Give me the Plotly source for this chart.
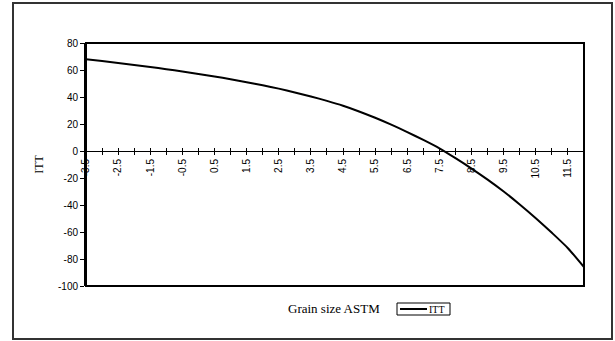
import plotly.graph_objects as go

# ---- data ----
grain_size = [-3.5, -3.0, -2.5, -2.0, -1.5, -1.0, -0.5, 0.0, 0.5, 1.0, 1.5, 2.0,
              2.5, 3.0, 3.5, 4.0, 4.5, 5.0, 5.5, 6.0, 6.5, 7.0, 7.5, 8.0,
              8.5, 9.0, 9.5, 10.0, 10.5, 11.0, 11.5, 12.0]
itt = [68.0, 66.6, 65.2, 63.7, 62.2, 60.6, 58.9, 57.1, 55.2, 53.2, 51.0, 48.7,
       46.2, 43.4, 40.4, 37.1, 33.5, 29.3, 24.6, 19.5, 14.0, 8.2, 2.0, -5.3,
       -13.0, -21.2, -30.0, -39.6, -49.8, -60.6, -72.0, -86.0]
label_vals = [-3.5, -2.5, -1.5, -0.5, 0.5, 1.5, 2.5, 3.5, 4.5, 5.5, 6.5, 7.5, 8.5, 9.5, 10.5, 11.5]
y_ticks = [80, 60, 40, 20, 0, -20, -40, -60, -80, -100]

# ---- layout geometry (pixels) ----
W, H = 615, 341
L, R, T, B = 86, 584, 43, 286
pw, ph = R - L, B - T
def px(x):
    return (x - L) / pw
def py(y):
    return (B - y) / ph

YMIN, YMAX = -100, 80
zero_pos = (0 - YMIN) / (YMAX - YMIN)

all_ticks = grain_size
tick_text = [(f"{v:g}" if v in label_vals else "") for v in all_ticks]
y_text = [f"{v:g}" for v in y_ticks]

serif = "Liberation Serif, Times New Roman, serif"
tickfont = dict(family="Liberation Sans, Arial", size=10, color="black")

fig = go.Figure()
fig.add_trace(go.Scatter(x=grain_size, y=itt, mode="lines", name="ITT",
                         line=dict(color="black", width=2, shape="spline", smoothing=0.6),
                         hoverinfo="skip", showlegend=False))
fig.add_trace(go.Scatter(x=[], y=[], xaxis="x2", showlegend=False))

fig.update_layout(
    width=W, height=H,
    margin=dict(l=L, r=W - R, t=T, b=H - B, autoexpand=False),
    paper_bgcolor="white", plot_bgcolor="white",
    hovermode=False,
    xaxis=dict(range=[-3.5, 12], anchor="free", position=zero_pos,
               tickmode="array", tickvals=all_ticks, ticktext=tick_text,
               tickangle=-90, tickfont=tickfont,
               ticks="outside", ticklen=3, tickcolor="black", tickwidth=1,
               showline=True, linecolor="black", linewidth=1,
               showgrid=False, zeroline=False),
    xaxis2=dict(range=[-3.5, 12], anchor="free", position=zero_pos, overlaying="x",
                tickmode="array", tickvals=all_ticks, showticklabels=False,
                ticks="inside", ticklen=3, tickcolor="black", tickwidth=1,
                showline=False, showgrid=False, zeroline=False),
    yaxis=dict(range=[YMIN, YMAX], tickmode="array", tickvals=y_ticks, ticktext=y_text,
               tickfont=tickfont, ticks="outside", ticklen=4, tickcolor="black",
               showline=True, linecolor="black", linewidth=2,
               showgrid=False, zeroline=False,
               title=dict(text="ITT", font=dict(family=serif, size=12, color="black"),
                          standoff=12)),
    annotations=[
        dict(text="Grain size ASTM", x=px(334), y=py(308), xref="paper", yref="paper",
             showarrow=False, xanchor="center", yanchor="middle",
             font=dict(family=serif, size=13, color="black")),
        dict(text="ITT", x=px(429), y=py(309), xref="paper", yref="paper",
             showarrow=False, xanchor="left", yanchor="middle", xshift=-2,
             font=dict(family=serif, size=10, color="black")),
    ],
    shapes=[
        dict(type="rect", xref="paper", yref="paper", x0=0, x1=1, y0=0, y1=1,
             line=dict(color="black", width=2), layer="above"),
        dict(type="rect", xref="paper", yref="paper", x0=px(13), x1=px(612), y0=py(339), y1=py(3),
             line=dict(color="#333333", width=2)),
        # legend box
        dict(type="rect", xref="paper", yref="paper", x0=px(397), x1=px(450), y0=py(315), y1=py(303),
             line=dict(color="black", width=1)),
        dict(type="line", xref="paper", yref="paper", x0=px(400), x1=px(427), y0=py(309), y1=py(309),
             line=dict(color="black", width=2)),
    ],
)

fig.write_html("out.html", config={"displayModeBar": False},
               post_script="document.body.style.margin='0px';")
